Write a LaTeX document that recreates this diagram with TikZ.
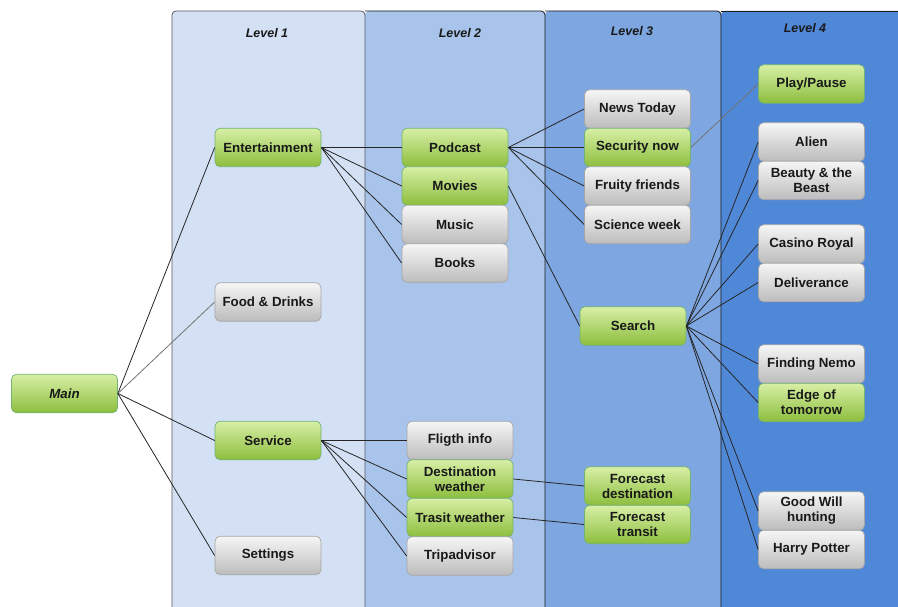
\documentclass[tikz,border=0pt]{standalone}
\usepackage{fontspec}
\setmainfont{Liberation Sans}
\begin{document}
\begin{tikzpicture}[x=1pt,y=-1pt,
  box/.style={rounded corners=5pt, minimum width=106pt, minimum height=38.5pt, inner sep=1pt,
    align=center, font=\fontsize{13.3}{15}\selectfont\bfseries, text=black!90, line width=0.7pt},
  green/.style={box, draw=green!45!black!55, top color=gn1, bottom color=gn2},
  grey/.style={box, draw=black!35, top color=gy1, bottom color=gy2},
  lane/.style={draw=black!90, line width=0.8pt},
  title/.style={font=\fontsize{12.5}{14}\selectfont\bfseries\itshape, text=black!90},
  ln/.style={draw=black!85, line width=0.8pt},
  lnl/.style={draw=black!55, line width=0.8pt}]
\definecolor{gn1}{HTML}{D7EFA5}
\definecolor{gn2}{HTML}{8DBE3E}
\definecolor{gy1}{HTML}{F6F6F6}
\definecolor{gy2}{HTML}{BCBCBC}
\definecolor{l1}{HTML}{D4E1F5}
\definecolor{l2}{HTML}{A9C4EB}
\definecolor{l3}{HTML}{7EA6E0}
\definecolor{l4}{HTML}{5088D8}
\useasboundingbox (0,0) rectangle (898,607);
\fill[white] (0,0) rectangle (898,607);
% lanes
\fill[l1, rounded corners=4pt] (172,620) -- (172,11) -- (365,11) -- (365,620);
\fill[l2, rounded corners=4pt] (365,620) -- (365,11) -- (545,11) -- (545,620);
\fill[l3, rounded corners=4pt] (545,620) -- (545,11) -- (721,11) -- (721,620);
\fill[l4, rounded corners=4pt] (721,620) -- (721,11) -- (905,11) -- (905,620);
\draw[lane, draw=black!65, rounded corners=4pt] (172,620) -- (172,11) -- (365,11) -- (365,620);
\draw[lane, rounded corners=4pt] (365,11) -- (545,11) -- (545,620);
\draw[lane, rounded corners=4pt] (545,11) -- (721,11) -- (721,620);
\draw[lane, rounded corners=4pt] (721,11) -- (905,11);
\node[title] (t1) at (267,33) {Level 1};
\node[title] (t2) at (460,33) {Level 2};
\node[title] (t3) at (632,31) {Level 3};
\node[title] (t4) at (805,28) {Level 4};
% nodes
\node[green, font=\fontsize{13.3}{15}\selectfont\bfseries\itshape] (main) at (64.5,393.5) {Main};
\node[green] (ent) at (268,147.5) {Entertainment};
\node[grey] (food) at (268,302) {Food \& Drinks};
\node[green] (serv) at (268,440.5) {Service};
\node[grey] (sett) at (268,555.5) {Settings};
\node[green] (pod) at (455,147.5) {Podcast};
\node[green] (mov) at (455,186) {Movies};
\node[grey] (mus) at (455,224.5) {Music};
\node[grey] (book) at (455,263) {Books};
\node[grey] (fli) at (460,440.5) {Fligth info};
\node[green] (dest) at (460,479) {Destination\\weather};
\node[green] (tras) at (460,517.5) {Trasit weather};
\node[grey] (trip) at (460,556) {Tripadvisor};
\node[grey] (news) at (637.5,109) {News Today};
\node[green] (sec) at (637.5,147.5) {Security now};
\node[grey] (fru) at (637.5,186) {Fruity friends};
\node[grey] (sci) at (637.5,224.5) {Science week};
\node[green] (search) at (633,326) {Search};
\node[green] (fdest) at (637.5,486) {Forecast\\destination};
\node[green] (ftra) at (637.5,524.5) {Forecast\\transit};
\node[green] (play) at (811.5,84) {Play/Pause};
\node[grey] (alien) at (811.5,142) {Alien};
\node[grey] (beauty) at (811.5,180.5) {Beauty \& the\\Beast};
\node[grey] (casino) at (811.5,244) {Casino Royal};
\node[grey] (deliv) at (811.5,282.5) {Deliverance};
\node[grey] (nemo) at (811.5,364) {Finding Nemo};
\node[green] (edge) at (811.5,402.5) {Edge of\\tomorrow};
\node[grey] (good) at (811.5,511) {Good Will\\hunting};
\node[grey] (harry) at (811.5,549.5) {Harry Potter};
% connectors
\draw[ln] (main.east) -- (ent.west);
\draw[lnl] (main.east) -- (food.west);
\draw[ln] (main.east) -- (serv.west);
\draw[ln] (main.east) -- (sett.west);
\foreach \c in {pod,mov,mus,book} \draw[ln] (ent.east) -- (\c.west);
\foreach \c in {news,sec,fru,sci} \draw[ln] (pod.east) -- (\c.west);
\draw[lnl] (sec.east) -- (play.west);
\draw[ln] (mov.east) -- (search.west);
\foreach \c in {alien,beauty,casino,deliv,nemo,edge,good,harry} \draw[ln] (search.east) -- (\c.west);
\foreach \c in {fli,dest,tras,trip} \draw[ln] (serv.east) -- (\c.west);
\draw[ln] (dest.east) -- (fdest.west);
\draw[ln] (tras.east) -- (ftra.west);
\end{tikzpicture}
\end{document}
